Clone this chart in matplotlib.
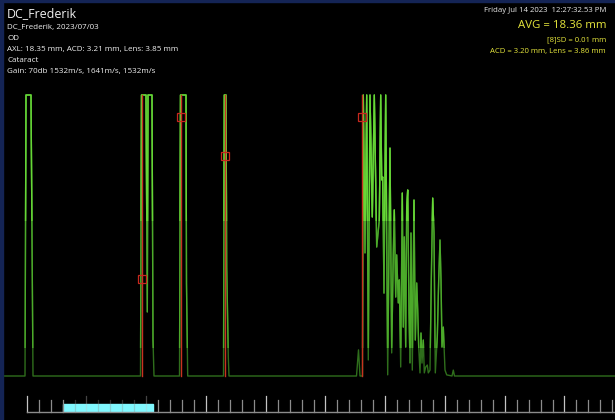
import numpy as np
import matplotlib
matplotlib.use("Agg")
import matplotlib.pyplot as plt
from matplotlib.patches import Rectangle

# A-scan trace: sample position and echo amplitude (%)
scan_x = [0, 25, 26, 31, 33,
          140.5, 141.5, 146, 147.3, 148, 152, 153, 154,
          179.5, 180.5, 186, 186.5, 187.7,
          223.5, 224.3, 226, 226.7, 228.3, 229,
          356.5, 358.5, 360, 362.5,
          363.3, 365, 366.7, 368.3, 370, 372.3, 374.3, 376.7, 379.3, 380.7,
          381.7, 382.7, 384, 385.7, 387.7, 390, 391.7, 393.3, 394.3, 395.7,
          396.7, 398.3, 399.3, 400.7, 402.3, 403.3, 404.3, 405.7, 406.7, 407.7,
          409, 410, 411, 412.3, 414, 415.3, 416.7, 417.7, 418.7, 420,
          421, 422, 423.3, 424.3, 425.7, 427.3, 428.3, 430, 431.3, 432.7,
          434, 435.3, 437.3, 438.7, 440, 441, 442, 443.3, 445, 446.7,
          452, 453.3, 454.5, 615]
scan_amp = [0, 0, 100, 100, 0,
            0, 100, 100, 22.8, 100, 100, 12.8, 0,
            0, 100, 100, 33.0, 0,
            0, 100, 100, 38.8, 6.8, 0,
            0, 9.3, 0, 0,
            100, 43.8, 100, 5.7, 100, 56.6, 100, 45.9, 55.5, 100,
            69.8, 70.8, 29.5, 100, 0.4, 81.1, 8.2, 43.8, 59.1, 28.1,
            43.1, 26.0, 34.2, 3.2, 65.1, 17.4, 49.5, 10.3, 60.1, 66.2,
            22.4, 4.6, 50.9, 2.1, 62.6, 12.8, 33.1, 23.5, 10.3, 1.1,
            15.3, 4.6, 12.8, 1.1, 3.2, 3.9, 1.1, 2.1, 34.2, 63.3,
            50.9, 1.1, 13.9, 34.2, 48.4, 34.2, 10.3, 17.4, 2.1, 0.4,
            0, 2.1, 0, 0]

# measurement gates and their marker heights
gate_x = [142.3, 181.3, 225, 362]
gate_amp = [34.5, 92.2, 78.3, 92.2]

# depth scale under the trace
n_ticks = 50
major_every = 5
window = (3.05, 10.6)

header_left = ["DC_Frederik, 2023/07/03", "OD",
               "AXL: 18.35 mm, ACD: 3.21 mm, Lens: 3.85 mm",
               "Cataract", "Gain: 70db 1532m/s, 1641m/s, 1532m/s"]
header_right = ["[8]SD = 0.01 mm", "ACD = 3.20 mm, Lens = 3.86 mm"]

W, H = 615, 420
plt.rcParams['font.family'] = ['Open Sans', 'DejaVu Sans']
fig = plt.figure(figsize=(W / 100, H / 100), dpi=100, facecolor='black')

# trace axes
ax = fig.add_axes([0, (H - 376) / H, 1, (376 - 95) / H])
ax.set_facecolor('black')
ax.set_xlim(0, W)
ax.set_ylim(0, 100)
ax.axis('off')

# dark green for the noise floor, brighter green for the echoes
ax.plot(scan_x, scan_amp, color='#2f6e1c', lw=1.0, clip_on=False, zorder=2)
bright, = ax.plot(scan_x, scan_amp, color='#4caa2a', lw=1.0, zorder=3)
bright.set_clip_path(Rectangle((0, 10), W, 95, transform=ax.transData))
top, = ax.plot(scan_x, scan_amp, color='#66d636', lw=1.0, zorder=3)
top.set_clip_path(Rectangle((0, 55), W, 50, transform=ax.transData))

for gx, ga in zip(gate_x, gate_amp):
    ax.plot([gx, gx], [0, 100], color='#c83220', lw=1.0, clip_on=False, zorder=4)
    ax.plot(gx, ga, marker='s', ms=5.5, mfc='none', mec='#c8281e', mew=0.9,
            clip_on=False, zorder=5)

# depth scale
sc = fig.add_axes([0, (H - 411.5) / H, 1, 16 / H])
sc.set_facecolor('black')
sc.set_xlim(-26.7 / 11.95, (W - 26.7) / 11.95)
sc.set_ylim(0, 1)
sc.axis('off')
sc.add_patch(Rectangle((window[0], 0), window[1] - window[0], 0.47,
                       color='#80f8ff', zorder=1))
for k in range(n_ticks):
    major = k % major_every == 0
    inside = window[0] < k < window[1]
    sc.plot([k, k], [0, 0.97 if major else 0.69],
            color='#c4c4c4' if major else '#8c8c8c', lw=0.9,
            alpha=0.35 if inside else 1.0, clip_on=False, zorder=2)
sc.plot([0, W], [0, 0], color='#8c8c8c', lw=1.0, clip_on=False, zorder=2)

# window frame
fig.patches.append(Rectangle((0, 0), 3 / W, 1, transform=fig.transFigure,
                             color='#142455', zorder=10))
fig.patches.append(Rectangle((0, 1 - 2 / H), 1, 2 / H, transform=fig.transFigure,
                             color='#142455', zorder=10))


def px(x, y):
    return x / W, 1 - y / H


fig.text(*px(7, 14), "DC_Frederik", color='#f0f0f0', fontsize=8.9, va='center')
for i, line in enumerate(header_left):
    fig.text(*px(7, 28 + i * 11), line, color='#f0f0f0', fontsize=5.8, va='center')

fig.text(*px(606, 11), "Friday Jul 14 2023  12:27:32.53 PM", color='#e8e8e8',
         fontsize=5.6, ha='right', va='center')
fig.text(*px(606, 26), "AVG = 18.36 mm", color='#e6e63c', fontsize=8.2,
         ha='right', va='center')
for i, line in enumerate(header_right):
    fig.text(*px(606, 40 + i * 11), line, color='#e6e63c', fontsize=5.6,
             ha='right', va='center')

fig.savefig('out.png', dpi=100, facecolor='black')
